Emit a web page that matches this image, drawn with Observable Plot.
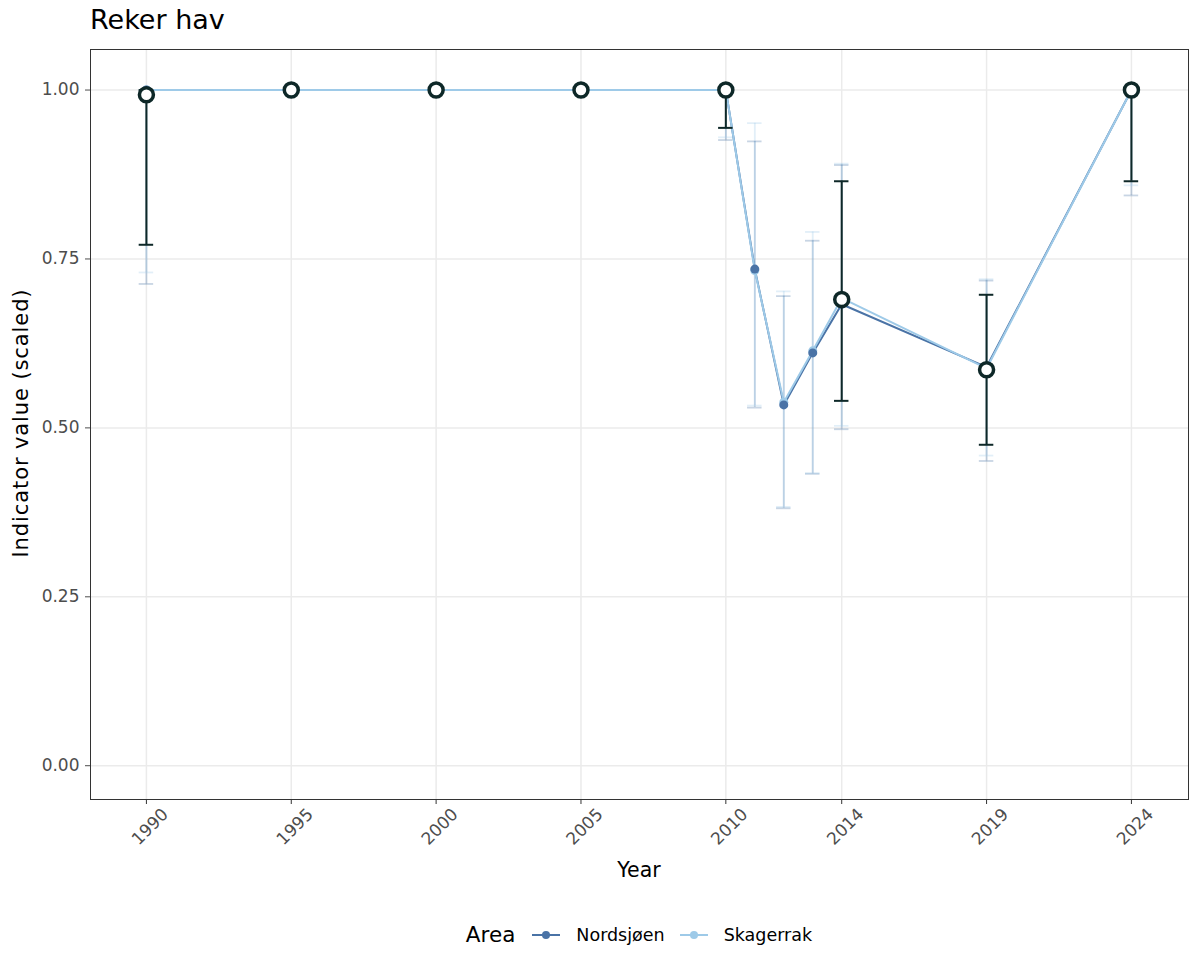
<!DOCTYPE html>
<html>
<head>
<meta charset="utf-8">
<script src="https://cdn.jsdelivr.net/npm/d3@7"></script>
<script src="https://cdn.jsdelivr.net/npm/@observablehq/plot@0.6"></script>
<style>
  html, body { margin: 0; padding: 0; background: #fff; }
  body { font-family: "DejaVu Sans", sans-serif; }
  #wrap { position: relative; width: 1200px; height: 975px; }
  #title { position: absolute; left: 90px; top: 6px; font-size: 27px; line-height: 1; color: #000; white-space: nowrap; }
  #xlab { position: absolute; left: 90px; width: 1098px; top: 860px; text-align: center; font-size: 20.5px; line-height: 1; color: #000; }
  #ylab { position: absolute; left: 21px; top: 423px; transform: translate(-50%, -50%) rotate(-90deg); font-size: 21px; letter-spacing: 0.9px; line-height: 1; color: #000; white-space: nowrap; }
  #legend { position: absolute; left: 90px; width: 1098px; top: 922px; display: flex; justify-content: center; align-items: center; font-size: 17.5px; color: #000; }
  #legend .ttl { font-size: 21.5px; margin-right: 17px; }
  #legend .key { display: flex; align-items: center; margin-right: 15px; }
  #legend .key:last-child { margin-right: 0; }
  #legend .key svg { margin-right: 16px; }
  #chart { position: absolute; left: 0; top: 0; }
</style>
</head>
<body>
<div id="wrap">
  <div id="chart"></div>
  <div id="title">Reker hav</div>
  <div id="xlab">Year</div>
  <div id="ylab">Indicator value (scaled)</div>
  <div id="legend"></div>
</div>
<script>
// ---- data ----
const areas = ["Nordsjøen", "Skagerrak"];
const areaColors = ["#4a73a6", "#9ecae8"];

const years     = [1990, 1995, 2000, 2005, 2010, 2011, 2012, 2013, 2014, 2019, 2024];
const nordsjoen = [1.000, 1.000, 1.000, 1.000, 1.000, 0.735, 0.534, 0.611, 0.683, 0.590, 1.000];
const nordLo    = [0.713, 1.000, 1.000, 1.000, 0.926, 0.530, 0.381, 0.432, 0.498, 0.451, 0.844];
const nordHi    = [1.000, 1.000, 1.000, 1.000, 1.000, 0.924, 0.695, 0.777, 0.889, 0.718, 1.000];
const skagerrak = [1.000, 1.000, 1.000, 1.000, 1.000, 0.733, 0.538, 0.614, 0.692, 0.588, 1.000];
const skagLo    = [0.730, 1.000, 1.000, 1.000, 0.930, 0.533, 0.383, 0.433, 0.503, 0.459, 0.859];
const skagHi    = [1.000, 1.000, 1.000, 1.000, 1.000, 0.951, 0.702, 0.790, 0.891, 0.720, 1.000];

const totalYears = [1990, 1995, 2000, 2005, 2010, 2014, 2019, 2024];
const total      = [0.993, 1.000, 1.000, 1.000, 1.000, 0.690, 0.586, 1.000];
const totalLo    = [0.771, 1.000, 1.000, 1.000, 0.944, 0.540, 0.475, 0.865];
const totalHi    = [1.000, 1.000, 1.000, 1.000, 1.000, 0.865, 0.697, 1.000];

const xTicks = [1990, 1995, 2000, 2005, 2010, 2014, 2019, 2024];
const yTicks = [0, 0.25, 0.5, 0.75, 1];

// ---- tables ----
const regional = [
  ...years.map((y, i) => ({area: areas[0], year: y, value: nordsjoen[i], lo: nordLo[i], hi: nordHi[i]})),
  ...years.map((y, i) => ({area: areas[1], year: y, value: skagerrak[i], lo: skagLo[i], hi: skagHi[i]}))
];
const regionalDotsOrder = [...regional.filter(d => d.area === areas[1]), ...regional.filter(d => d.area === areas[0])];
const totals = totalYears.map((y, i) => ({year: y, value: total[i], lo: totalLo[i], hi: totalHi[i]}));

const capHalf = 0.25;
const dark = "#0e2828";

const chart = Plot.plot({
  width: 1200,
  height: 900,
  marginTop: 49,
  marginLeft: 90,
  marginRight: 12,
  marginBottom: 101,
  style: {fontFamily: "DejaVu Sans, sans-serif", background: "transparent"},
  x: {domain: [1988.07, 2025.97], label: null},
  y: {domain: [-0.05, 1.06], label: null},
  color: {domain: areas, range: areaColors},
  marks: [
    Plot.ruleX(xTicks, {x: d => d, stroke: "#ebebeb", strokeWidth: 1.5}),
    Plot.ruleY(yTicks, {y: d => d, stroke: "#ebebeb", strokeWidth: 1.5}),
    // regional error bars
    Plot.ruleX(regional, {x: "year", y1: "lo", y2: "hi", stroke: "area", strokeOpacity: 0.3, strokeWidth: 1.8}),
    Plot.ruleY(regional, {y: "lo", x1: d => d.year - capHalf, x2: d => d.year + capHalf, stroke: "area", strokeOpacity: 0.3, strokeWidth: 1.8}),
    Plot.ruleY(regional, {y: "hi", x1: d => d.year - capHalf, x2: d => d.year + capHalf, stroke: "area", strokeOpacity: 0.3, strokeWidth: 1.8}),
    // regional lines and points
    Plot.line(regional, {x: "year", y: "value", z: "area", stroke: "area", strokeWidth: 2}),
    Plot.dot(regionalDotsOrder, {x: "year", y: "value", fill: "area", r: 4.5}),
    // total error bars and points
    Plot.ruleX(totals, {x: "year", y1: "lo", y2: "hi", stroke: dark, strokeWidth: 2}),
    Plot.ruleY(totals, {y: "lo", x1: d => d.year - capHalf, x2: d => d.year + capHalf, stroke: dark, strokeWidth: 2}),
    Plot.ruleY(totals, {y: "hi", x1: d => d.year - capHalf, x2: d => d.year + capHalf, stroke: dark, strokeWidth: 2}),
    Plot.dot(totals, {x: "year", y: "value", r: 7, fill: "white", stroke: dark, strokeWidth: 3.5}),
    Plot.frame({stroke: "#333333", strokeWidth: 1}),
    // axes
    Plot.axisY({ticks: yTicks, tickFormat: d3.format(".2f"), tickSize: 5, tickPadding: 6, fontSize: 17, color: "#4d4d4d", label: null}),
    Plot.axisX({ticks: xTicks, tickFormat: () => "", tickSize: 5, color: "#333333", label: null}),
    Plot.text(xTicks, {x: d => d, text: d => String(d), frameAnchor: "bottom", rotate: -45, textAnchor: "end", lineAnchor: "middle", dx: 19, dy: 12, fontSize: 17, fill: "#4d4d4d"})
  ]
});
document.getElementById("chart").appendChild(chart);

// legend
const legend = document.getElementById("legend");
const t = document.createElement("span");
t.className = "ttl";
t.textContent = "Area";
legend.appendChild(t);
areas.forEach((a, i) => {
  const k = document.createElement("span");
  k.className = "key";
  k.innerHTML = `<svg width="28" height="16"><line x1="0" y1="8" x2="28" y2="8" stroke="${areaColors[i]}" stroke-width="2"/><circle cx="14" cy="8" r="4" fill="${areaColors[i]}"/></svg><span>${a}</span>`;
  legend.appendChild(k);
});
</script>
</body>
</html>
